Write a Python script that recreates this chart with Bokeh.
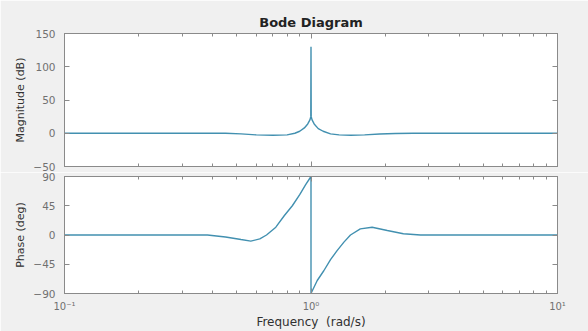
import json
from bokeh.plotting import figure
from bokeh.layouts import column
from bokeh.models import Range1d, FixedTicker, LogAxis, LinearAxis, CustomJSTickFormatter
from bokeh.embed import file_html
from bokeh.resources import INLINE

# ---- data ----
freq_mag = [0.1, 0.2, 0.3, 0.45, 0.52, 0.6, 0.7, 0.8, 0.86, 0.9, 0.94, 0.97, 0.99, 0.998,
            1.0, 1.002, 1.01, 1.03, 1.07, 1.12, 1.2, 1.3, 1.45, 1.65, 1.9, 2.2, 2.6, 4.0, 10.0]
mag_db = [0, 0, 0, 0, -1, -2.5, -3, -2.5, 0, 3, 8, 14, 20, 25,
          130, 25, 20, 14, 7, 3, -1, -2.5, -3, -2.5, -1.2, -0.3, 0, 0, 0]

freq_phase = [0.1, 0.2, 0.38, 0.45, 0.52, 0.57, 0.62, 0.66, 0.72, 0.78, 0.84, 0.9, 0.95, 1.0,
              1.0, 1.06, 1.127, 1.2, 1.276, 1.36, 1.446, 1.585, 1.77, 2.04, 2.37, 2.78, 4.0, 10.0]
phase_deg = [0, 0, 0, -3, -7, -9.5, -6, 0, 12, 30, 45, 62, 77, 90,
             -90, -70, -55, -38, -24, -11, 0, 9.5, 12, 7, 2, 0, 0, 0]

x_major = [0.1, 1, 10]
x_minor = [0.2, 0.3, 0.4, 0.5, 0.6, 0.7, 0.8, 0.9, 2, 3, 4, 5, 6, 7, 8, 9]
x_tick_labels = {"0.1": "10\u207b\u00b9", "1": "10\u2070", "10": "10\u00b9"}
mag_ticks = [-50, 0, 50, 100, 150]
phase_ticks = [-90, -45, 0, 45, 90]

title_text = "Bode Diagram"
mag_label = "Magnitude (dB)"
phase_label = "Phase (deg)"
x_label = "Frequency\u00a0 (rad/s)"

# ---- styling ----
FONT = "DejaVu Sans"
GRAY = "#8a8a8a"
TICK_TXT = "#707070"
LABEL_TXT = "#303030"
LINE = "#4290b0"
BG = "#f0f0f0"
W = 588

x_range = Range1d(0.1, 10)
blank = CustomJSTickFormatter(code="return '';")
x_fmt = CustomJSTickFormatter(code="const m = %s; const k = String(tick); return (k in m) ? m[k] : '';" % json.dumps(x_tick_labels))


def style_axis(ax, show_labels):
    ax.axis_line_color = GRAY
    ax.major_tick_line_color = GRAY
    ax.minor_tick_line_color = GRAY
    ax.major_tick_in = 5
    ax.major_tick_out = 0
    ax.minor_tick_in = 3
    ax.minor_tick_out = 0
    ax.major_label_text_font = FONT
    ax.major_label_text_color = TICK_TXT
    ax.axis_label_text_font = FONT
    ax.axis_label_text_color = LABEL_TXT
    ax.axis_label_text_font_style = "normal"
    if show_labels:
        ax.major_label_text_font_size = "10.5px"
        ax.major_label_standoff = 9
    else:
        ax.formatter = blank
        ax.major_label_text_font_size = "0px"
        ax.major_label_standoff = 0


def make_panel(height, y_lo, y_hi, y_ticks, y_label, border_top, border_bottom, bottom_labels, title=None):
    kw = dict(width=W, height=height, x_axis_type="log", x_range=x_range,
              y_range=Range1d(y_lo, y_hi), output_backend="svg", toolbar_location=None,
              min_border_left=64, min_border_right=31, min_border_top=border_top,
              min_border_bottom=border_bottom, background_fill_color="white",
              border_fill_color=BG, outline_line_color=GRAY)
    if title is not None:
        kw["title"] = title
    p = figure(**kw)
    p.grid.visible = False
    p.xaxis.ticker = FixedTicker(ticks=x_major, minor_ticks=x_minor)
    p.yaxis.ticker = FixedTicker(ticks=y_ticks)
    style_axis(p.xaxis[0], bottom_labels)
    style_axis(p.yaxis[0], True)
    if bottom_labels:
        p.xaxis.formatter = x_fmt
        p.xaxis.major_label_text_font_size = "10px"
        p.xaxis.axis_label = x_label
        p.xaxis.axis_label_text_font_size = "12px"
        p.xaxis.axis_label_standoff = 0
        p.xaxis.major_label_standoff = 7
    p.yaxis.axis_label = y_label
    p.yaxis.axis_label_text_font_size = "11px"
    p.yaxis.axis_label_standoff = 3
    top = LogAxis(ticker=FixedTicker(ticks=x_major, minor_ticks=x_minor))
    style_axis(top, False)
    p.add_layout(top, "above")
    right = LinearAxis(ticker=FixedTicker(ticks=y_ticks))
    style_axis(right, False)
    p.add_layout(right, "right")
    return p


p1 = make_panel(172, -50, 150, mag_ticks, mag_label, 33, 6, False, title=title_text)
p1.title.align = "center"
p1.title.text_font = FONT
p1.title.text_font_size = "13px"
p1.title.text_font_style = "bold"
p1.title.text_color = "#222222"
p1.title.standoff = 8
p1.line(freq_mag, mag_db, line_color=LINE, line_width=1.4)

p2 = make_panel(159, -90, 90, phase_ticks, phase_label, 4, 38, True)
p2.line(freq_phase, phase_deg, line_color=LINE, line_width=1.4)

layout = column(p1, p2, spacing=0)
open("out.html", "w").write(file_html(layout, INLINE))
